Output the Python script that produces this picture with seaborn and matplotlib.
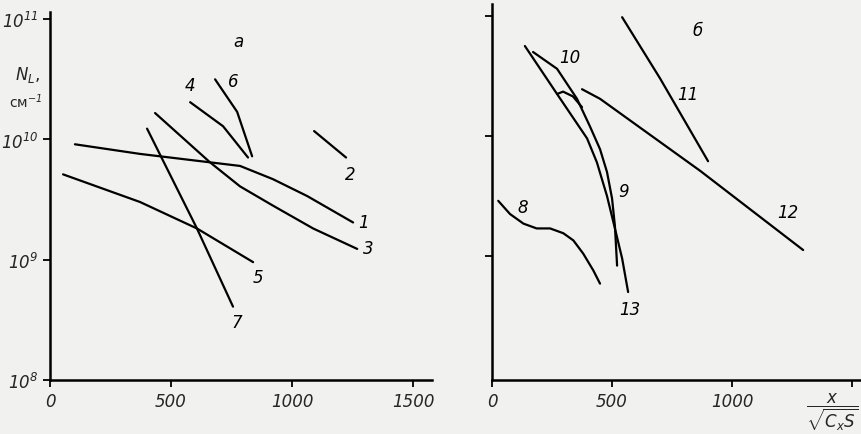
import numpy as np
import pandas as pd
import matplotlib.pyplot as plt
import seaborn as sns

# curves: x = x/sqrt(Cx S), lg N_L (N_L in cm^-1)
# panel а
c1_x = [103, 372, 661, 785, 921, 1062, 1252]
c1_lg = [9.96, 9.88, 9.81, 9.78, 9.67, 9.53, 9.31]
c2_x = [1091, 1223]
c2_lg = [10.07, 9.85]
c3_x = [434, 661, 785, 921, 1087, 1269]
c3_lg = [10.22, 9.81, 9.61, 9.45, 9.26, 9.09]
c4_x = [579, 715, 818]
c4_lg = [10.31, 10.11, 9.85]
c5_x = [54, 372, 607, 839]
c5_lg = [9.71, 9.48, 9.26, 8.98]
c6_x = [682, 773, 835]
c6_lg = [10.50, 10.23, 9.86]
c7_x = [401, 607, 756]
c7_lg = [10.09, 9.26, 8.61]

# panel б
c8_x = [26, 75, 131, 186, 242, 297, 339, 380, 422, 450]
c8_lg = [9.46, 9.35, 9.27, 9.23, 9.23, 9.19, 9.13, 9.02, 8.88, 8.77]
c9_x = [271, 296, 337, 375]
c9_lg = [10.35, 10.37, 10.33, 10.24]
c10_x = [171, 271, 354, 408, 450, 479, 500, 512, 521]
c10_lg = [10.70, 10.56, 10.31, 10.08, 9.89, 9.70, 9.48, 9.25, 8.92]
c11_x = [542, 700, 900]
c11_lg = [10.99, 10.48, 9.79]
c12_x = [375, 450, 867, 1296]
c12_lg = [10.39, 10.31, 9.71, 9.05]
c13_x = [137, 271, 396, 437, 479, 512, 542, 567]
c13_lg = [10.75, 10.35, 9.98, 9.78, 9.50, 9.23, 8.98, 8.70]

curves_a = {'1': (c1_x, c1_lg), '2': (c2_x, c2_lg), '3': (c3_x, c3_lg),
            '4': (c4_x, c4_lg), '5': (c5_x, c5_lg), '6': (c6_x, c6_lg),
            '7': (c7_x, c7_lg)}
curves_b = {'8': (c8_x, c8_lg), '9': (c9_x, c9_lg), '10': (c10_x, c10_lg),
            '11': (c11_x, c11_lg), '12': (c12_x, c12_lg), '13': (c13_x, c13_lg)}

# curve number labels (x, lg N)
labels_a = {'1': (1293, 9.31), '2': (1240, 9.71), '3': (1314, 9.10),
            '4': (579, 10.45), '5': (860, 8.86), '6': (756, 10.49),
            '7': (773, 8.48), 'а': (777, 10.82)}
labels_b = {'8': (130, 9.41), '9': (546, 9.54), '10': (325, 10.66),
            '11': (817, 10.35), '12': (1233, 9.37), '13': (575, 8.56),
            'б': (858, 10.88)}

x_ticks = [0, 500, 1000, 1500]
y_ticks = [1e8, 1e9, 1e10, 1e11]


def to_frame(curves):
    rows = []
    for name, (xs, lgs) in curves.items():
        for x, lg in zip(xs, lgs):
            rows.append({'curve': name, 'x': x, 'N': 10 ** lg})
    return pd.DataFrame(rows)


df_a = to_frame(curves_a)
df_b = to_frame(curves_b)

sns.set_theme(style="ticks")
bg = '#f1f1f0'
plt.rcParams['font.family'] = ['DejaVu Sans']
# everything in mathtext italic, like the hand lettering
plt.rcParams['mathtext.fontset'] = 'custom'
plt.rcParams['mathtext.rm'] = 'DejaVu Sans:italic'
plt.rcParams['mathtext.it'] = 'DejaVu Sans:italic'
plt.rcParams['mathtext.bf'] = 'DejaVu Sans:bold:italic'

fig = plt.figure(figsize=(8.61, 4.35), dpi=100, facecolor=bg)
ax_a = fig.add_axes([50 / 861, 1 - 381 / 435, (432 - 50) / 861, (381 - 13) / 435])
ax_b = fig.add_axes([492 / 861, 1 - 381 / 435, (861 - 492) / 861, (381 - 5) / 435])

for ax, df, labels in [(ax_a, df_a, labels_a), (ax_b, df_b, labels_b)]:
    ax.set_facecolor(bg)
    ax.set_yscale('log')
    pal = {c: 'black' for c in df['curve'].unique()}
    sns.lineplot(data=df, x='x', y='N', hue='curve', palette=pal, estimator=None,
                 sort=False, legend=False, lw=1.6, ax=ax)
    for txt, (x, lg) in labels.items():
        ax.text(x, 10 ** lg, txt, fontsize=12, style='italic', ha='center',
                va='center', color='black')
    for s in ['top', 'right']:
        ax.spines[s].set_visible(False)
    for s in ['left', 'bottom']:
        ax.spines[s].set_linewidth(1.8)
        ax.spines[s].set_color('black')
    ax.tick_params(axis='both', which='major', direction='out', length=5,
                   width=1.3, color='black', labelsize=12)
    ax.tick_params(axis='both', which='minor', length=0)
    ax.set_xlabel('')
    ax.set_ylabel('')

ax_a.set_xlim(0, 1578)
ax_a.set_ylim(1e8, 10 ** 11.06)
ax_a.set_xticks(x_ticks)
ax_a.set_xticklabels([str(t) for t in x_ticks], fontsize=12, style='italic')
ax_a.set_yticks(y_ticks)
ax_a.set_yticklabels([r'$10^{%d}$' % round(np.log10(t)) for t in y_ticks], fontsize=12)

ax_b.set_xlim(0, 1537)
ax_b.set_ylim(10 ** 7.967, 10 ** 11.1)
ax_b.set_xticks(x_ticks)
ax_b.set_xticklabels([str(t) for t in x_ticks[:-1]] + [''], fontsize=12, style='italic')
ax_b.set_yticks(y_ticks[1:])
ax_b.set_yticklabels([])

fig.text(28 / 861, 1 - 75 / 435, r'$N_L$,', fontsize=12, ha='center', va='center')
fig.text(26 / 861, 1 - 102 / 435, 'см$^{-1}$', fontsize=10, ha='center', va='center')
fig.text(859 / 861, 1 - 412 / 435, r'$\dfrac{x}{\sqrt{C_x S}}$', fontsize=12,
         ha='right', va='center')

fig.savefig('out.png', dpi=100, facecolor=bg)
